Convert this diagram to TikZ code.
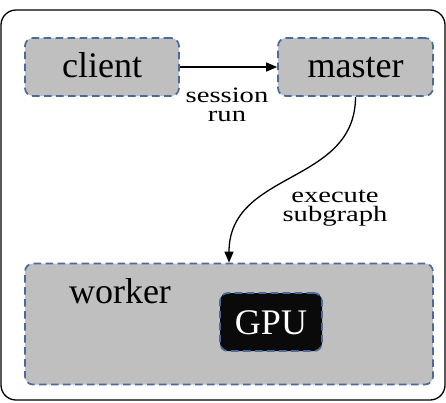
\documentclass[tikz,border=0pt]{standalone}
\usepackage{fontspec}
\setmainfont{Liberation Serif}
\newfontfamily\labelfont[FakeStretch=1.3]{Liberation Serif}
\usetikzlibrary{arrows.meta}
\definecolor{dashblue}{HTML}{4A6A9E}
\definecolor{boxgray}{HTML}{BFBFBF}
\definecolor{gpublack}{HTML}{0A0A0A}
\tikzset{
  dbox/.style={draw=dashblue, line width=1.7pt, dash pattern=on 7.5pt off 4.5pt,
    rounded corners=8pt, fill=boxgray, inner sep=0pt},
  bigtext/.style={font=\fontsize{36}{40}\selectfont, text height=24pt, text depth=4pt},
  edgelabel/.style={font=\labelfont\fontsize{22}{19}\selectfont, align=center, inner sep=0pt},
  conn/.style={line width=1.3pt, -{Triangle[length=11pt,width=9pt]}}
}
\begin{document}
\begin{tikzpicture}[x=1pt,y=-1pt]
\useasboundingbox (0,0) rectangle (446,402);
\draw[line width=1.3pt, rounded corners=15pt] (1,10) rectangle (445,400);
\node[dbox, bigtext, minimum width=154pt, minimum height=58pt] (client) at (102,67) {client};
\node[dbox, bigtext, minimum width=155pt, minimum height=58pt] (master) at (355.5,67) {master};
\node[dbox, minimum width=408pt, minimum height=121pt] (worker) at (229,324) {};
\node[font=\fontsize{36}{40}\selectfont, anchor=base, inner sep=0pt] (workerlabel) at (120,303) {worker};
\node[dbox, fill=gpublack, text=white, font=\fontsize{36}{40}\selectfont, text height=24pt, text depth=0pt,
  minimum width=102pt, minimum height=58pt] (gpu) at (271,322) {GPU};
\draw[conn] (client.east) -- (master.west);
\draw[conn] (master.south) .. controls (355.5,185) and (229,170) .. (worker.north);
\node[edgelabel] (sessionrun) at (227,105) {session\\run};
\node[edgelabel] (execsub) at (335,208) {execute\\subgraph};
\end{tikzpicture}
\end{document}
